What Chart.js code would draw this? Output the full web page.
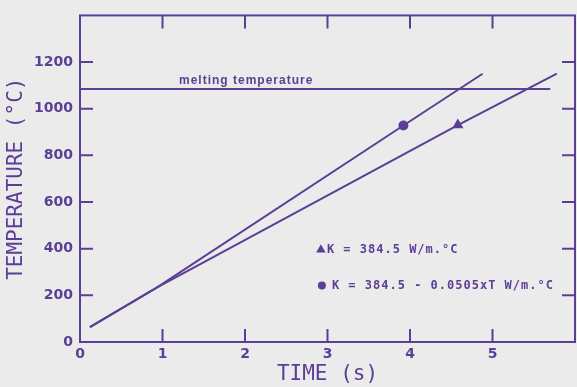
<!DOCTYPE html>
<html>
<head>
<meta charset="utf-8">
<script src="https://cdn.jsdelivr.net/npm/chart.js@4"></script>
<style>
  html, body { margin: 0; padding: 0; background: #ebebeb; }
  #wrap { width: 577px; height: 387px; }
</style>
</head>
<body>
<div id="wrap"><canvas id="tempChart" width="577" height="387"></canvas></div>
<script>
// time (s) / temperature (C)
const timeConstK = [0.12, 0.93, 4.58, 5.78];
const tempConstK = [64, 233, 930, 1150];
const timeVarK = [0.12, 0.93, 3.92, 4.88];
const tempVarK = [64, 233, 928, 1150];
const meltTime = [0, 5.7];
const meltTemp = [1085, 1085];

const timeTicks = [0, 1, 2, 3, 4, 5];
const tempTicks = [0, 200, 400, 600, 800, 1000, 1200];

const labelConstK = 'K = 384.5 W/m.°C';
const labelVarK = 'K = 384.5 - 0.0505xT W/m.°C';
const labelMelt = 'melting temperature';

const ink = '#5b3f96';

function toPoints(xs, ys) {
    return xs.map((x, i) => ({ x: x, y: ys[i] }));
}

// frame, inward ticks on all sides, and the in-plot texts
const plotterPlugin = {
    id: 'plotter',
    beforeDraw(chart) {
        const ctx = chart.ctx;
        ctx.save();
        ctx.fillStyle = '#ebebeb';
        ctx.fillRect(0, 0, chart.width, chart.height);
        ctx.restore();
    },
    afterDatasetsDraw(chart) {
        const ctx = chart.ctx;
        const area = chart.chartArea;
        const xs = chart.scales.x;
        const ys = chart.scales.y;
        ctx.save();
        ctx.strokeStyle = ink;
        ctx.lineWidth = 2;
        ctx.strokeRect(area.left, area.top, area.right - area.left, area.bottom - area.top);

        const len = 13;
        ctx.beginPath();
        timeTicks.forEach(t => {
            const px = xs.getPixelForValue(t);
            ctx.moveTo(px, area.bottom);
            ctx.lineTo(px, area.bottom - len);
            ctx.moveTo(px, area.top);
            ctx.lineTo(px, area.top + len);
        });
        tempTicks.forEach(v => {
            const py = ys.getPixelForValue(v);
            ctx.moveTo(area.left, py);
            ctx.lineTo(area.left + len, py);
            ctx.moveTo(area.right, py);
            ctx.lineTo(area.right - len, py);
        });
        ctx.stroke();

        ctx.fillStyle = ink;
        ctx.textBaseline = 'middle';
        ctx.textAlign = 'left';

        // melting temperature label
        ctx.font = 'bold 12px "Liberation Sans"';
        if ('letterSpacing' in ctx) ctx.letterSpacing = '1px';
        ctx.fillText(labelMelt, xs.getPixelForValue(1.2), ys.getPixelForValue(1085) - 8);

        // key
        ctx.font = 'bold 12px "DejaVu Sans Mono"';
        const kx = xs.getPixelForValue(2.92);
        const k1y = ys.getPixelForValue(395);
        const k2y = ys.getPixelForValue(242);
        Chart.helpers.drawPoint(ctx, { pointStyle: 'triangle', radius: 3.5, rotation: 0, borderWidth: 1 }, kx, k1y);
        ctx.fill();
        ctx.fillText(labelConstK, kx + 6, k1y);
        Chart.helpers.drawPoint(ctx, { pointStyle: 'circle', radius: 3, rotation: 0, borderWidth: 1 }, kx + 1, k2y);
        ctx.fill();
        ctx.fillText(labelVarK, kx + 11, k2y);
        ctx.restore();
    }
};

const ctx = document.getElementById('tempChart').getContext('2d');
new Chart(ctx, {
    type: 'line',
    data: {
        datasets: [
            {
                data: toPoints(timeConstK, tempConstK),
                borderColor: ink,
                backgroundColor: ink,
                borderWidth: 2,
                pointStyle: 'triangle',
                pointRadius: [0, 0, 4.5, 0],
                tension: 0
            },
            {
                data: toPoints(timeVarK, tempVarK),
                borderColor: ink,
                backgroundColor: ink,
                borderWidth: 2,
                pointStyle: 'circle',
                pointRadius: [0, 0, 4, 0],
                tension: 0
            },
            {
                data: toPoints(meltTime, meltTemp),
                borderColor: ink,
                borderWidth: 2,
                pointRadius: 0
            }
        ]
    },
    options: {
        responsive: false,
        animation: false,
        layout: { padding: { top: 11, right: 2, left: 0, bottom: 0 } },
        plugins: {
            legend: { display: false },
            tooltip: { enabled: false },
            title: { display: false }
        },
        scales: {
            x: {
                type: 'linear',
                min: 0,
                max: 6,
                grid: { display: false, drawTicks: false },
                border: { display: false },
                afterFit: scale => { scale.height = 45; },
                afterBuildTicks: scale => { scale.ticks = timeTicks.map(v => ({ value: v })); },
                ticks: {
                    color: ink,
                    padding: 4,
                    font: { family: 'DejaVu Sans', size: 14, weight: 'bold' },
                    maxRotation: 0,
                    callback: v => String(v)
                },
                title: {
                    display: true,
                    text: 'TIME (s)',
                    color: ink,
                    padding: { top: 0, bottom: 0 },
                    font: { family: 'DejaVu Sans Mono', size: 21 }
                }
            },
            y: {
                min: 0,
                max: 1400,
                grid: { display: false, drawTicks: false },
                border: { display: false },
                afterFit: scale => { scale.width = 80; },
                afterBuildTicks: scale => { scale.ticks = tempTicks.map(v => ({ value: v })); },
                ticks: {
                    color: ink,
                    padding: 7,
                    font: { family: 'DejaVu Sans', size: 14, weight: 'bold' },
                    callback: v => String(v)
                },
                title: {
                    display: true,
                    text: 'TEMPERATURE (°C)',
                    color: ink,
                    padding: { top: 4, bottom: 0 },
                    font: { family: 'DejaVu Sans Mono', size: 21 }
                }
            }
        }
    },
    plugins: [plotterPlugin]
});
</script>
</body>
</html>
